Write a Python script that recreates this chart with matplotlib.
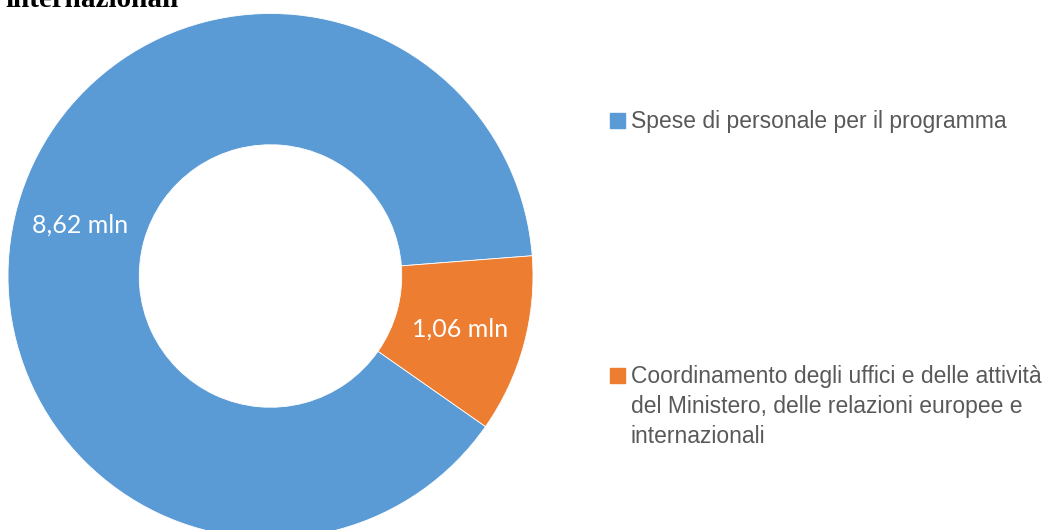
import matplotlib.pyplot as plt
from matplotlib.patches import Rectangle

# data
categories = ["Spese di personale per il programma",
              "Coordinamento degli uffici e delle attività\ndel Ministero, delle relazioni europee e\ninternazionali"]
values = [8.62, 1.06]
value_labels = ["8,62 mln", "1,06 mln"]
colors = ["#5B9BD5", "#ED7D31"]

W, H = 1047, 530
fig = plt.figure(figsize=(W / 100, H / 100), dpi=100)

# donut axes placed in pixel terms (center ~ (270.5, 276), r ~ 262.5)
cx, cy, r = 270.5, 276, 262.5
ax = fig.add_axes([(cx - r) / W, (H - cy - r) / H, 2 * r / W, 2 * r / H])
wedges, _ = ax.pie(values, colors=colors, startangle=-35, counterclock=False,
                   radius=1, wedgeprops=dict(width=0.5, edgecolor="white", linewidth=0.6))
ax.set_xlim(-1, 1)
ax.set_ylim(-1, 1)
ax.set_aspect("equal")
ax.axis("off")

# data labels (white, inside ring)
label_pos = [(80, 225), (460, 329)]
for (px, py), txt in zip(label_pos, value_labels):
    fig.text(px / W, 1 - py / H, txt, color="white", fontsize=18, family="Lato",
             ha="center", va="center")

# title remnant at the top, cut by the frame
fig.text(5 / W, 1 - 7 / H, "internazionali", fontsize=21, fontweight="bold",
         family="Liberation Serif", ha="left", va="baseline", color="black")

# legend, drawn by hand
leg_y = [120, 375]
for y, c, name in zip(leg_y, colors, categories):
    fig.patches.append(Rectangle((610 / W, 1 - (y + 7.5) / H), 15 / W, 15 / H,
                                 transform=fig.transFigure, color=c))
    fig.text(631 / W, 1 - (y - 10) / H, name, fontsize=16.5, family="Liberation Sans",
             color="#595959", ha="left", va="top", linespacing=1.4)

fig.savefig("out.png", dpi=100)
